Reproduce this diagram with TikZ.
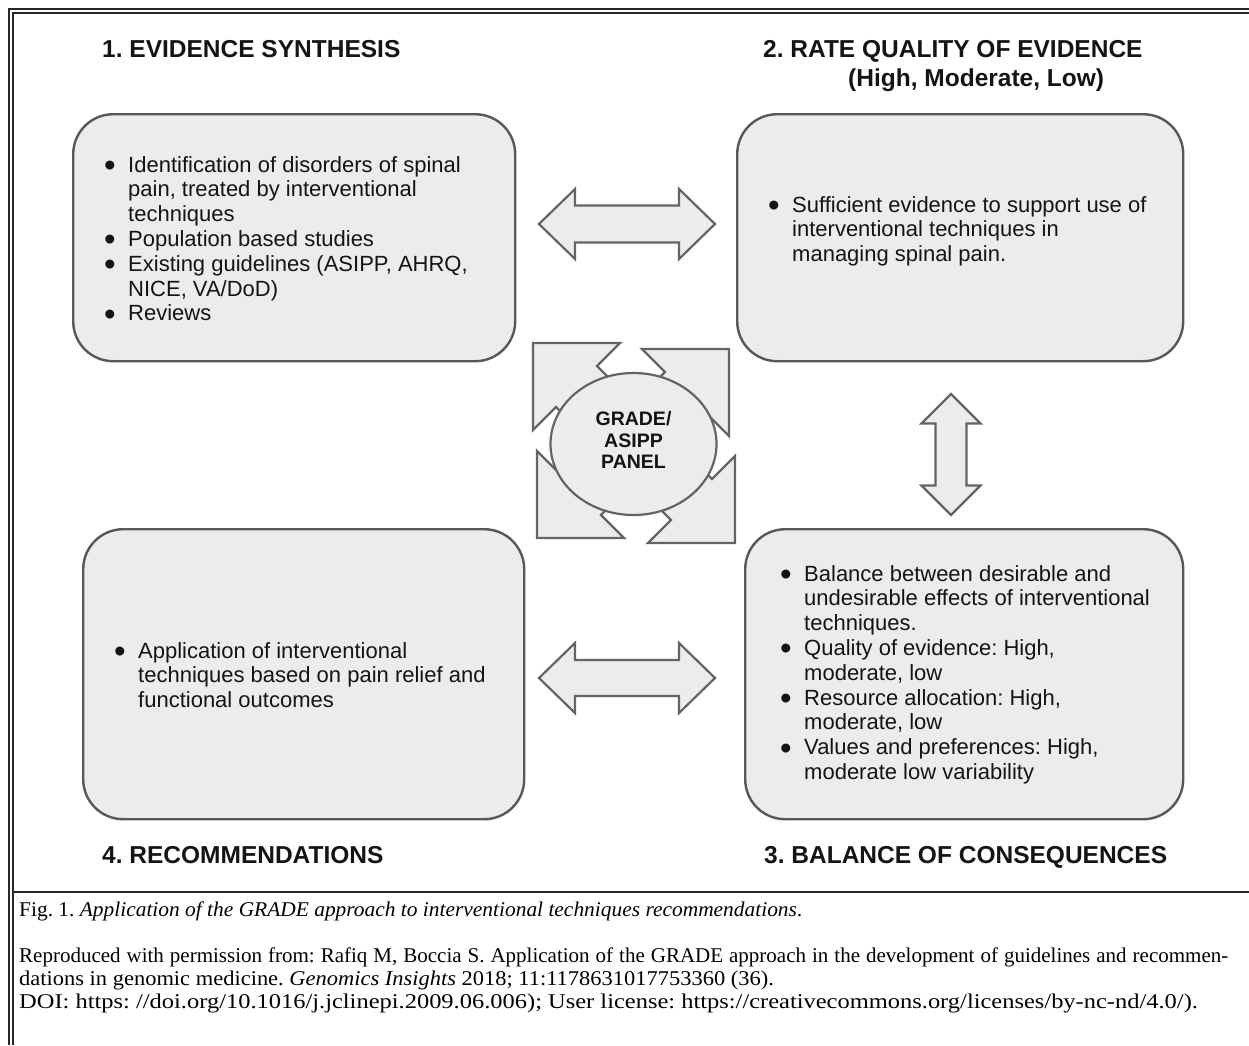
\documentclass[tikz,border=0pt]{standalone}
\usepackage{fontspec}
\setmainfont{Liberation Sans}
\newfontfamily\capfont{Liberation Serif}
\usetikzlibrary{calc,shapes.geometric}

\definecolor{boxfill}{RGB}{236,236,236}
\definecolor{boxline}{RGB}{88,88,88}
\definecolor{arrline}{RGB}{100,100,100}
\definecolor{txt}{RGB}{20,20,20}
\definecolor{framecol}{RGB}{40,40,40}

\newcommand{\bodysize}{\fontsize{22}{24.8}\selectfont}
\newcommand{\titlesize}{\fontsize{24.5}{28}\selectfont\bfseries}
\newcommand{\bul}{\makebox[24pt][l]{\smash{\raisebox{-4.5pt}{\scalebox{1.5}{\textbullet}}}}}
\newcommand{\ind}{\hspace*{24pt}}

\begin{document}
\frenchspacing
\begin{tikzpicture}[x=1pt,y=-1pt,
  panel/.style={rectangle, draw=boxline, line width=2.4pt, fill=boxfill, rounded corners=40pt, anchor=north west, inner sep=0pt},
  blockarrow/.style={draw=arrline, line width=2.2pt, fill=boxfill, line join=miter},
  heading/.style={anchor=base west, inner sep=0pt, font=\titlesize, text=txt},
  body/.style={anchor=base west, inner sep=0pt, font=\bodysize, text=txt},
  captext/.style={anchor=base west, inner sep=0pt, font=\capfont\fontsize{21}{23}\selectfont, text=black},
]
\useasboundingbox (0,0) rectangle (1249,1045);
\fill[white] (0,0) rectangle (1249,1045);

% frame
\draw[framecol, line width=2.5pt] (9,1045) -- (9,9) -- (1249,9);
\draw[framecol, line width=1.2pt] (13,1045) -- (13,13) -- (1249,13);
\draw[framecol, line width=1.5pt] (13,892) -- (1249,892);

% headings
\node[heading] (t1) at (102,57) {1. EVIDENCE SYNTHESIS};
\node[heading] (t2) at (763,57) {2. RATE QUALITY OF EVIDENCE};
\node[heading] (t2b) at (848,86) {(High, Moderate, Low)};
\node[heading] (t4) at (102,863) {4. RECOMMENDATIONS};
\node[heading] (t3) at (764,863) {3. BALANCE OF CONSEQUENCES};

% panels
\node[panel, minimum width=442pt, minimum height=247pt] (box1) at (72,113) {};
\node[panel, minimum width=446pt, minimum height=247pt] (box2) at (736,113) {};
\node[panel, minimum width=441pt, minimum height=290pt] (box4) at (82,528) {};
\node[panel, minimum width=438pt, minimum height=290pt] (box3) at (744,528) {};

% panel texts
\node[body] (b1) at (104,172) {\begin{tabular}[t]{@{}l@{}}
\bul Identification of disorders of spinal\\
\ind pain, treated by interventional\\
\ind techniques\\
\bul Population based studies\\
\bul Existing guidelines (ASIPP, AHRQ,\\
\ind NICE, VA/DoD)\\
\bul Reviews
\end{tabular}};

\node[body] (b2) at (768,212) {\begin{tabular}[t]{@{}l@{}}
\bul Sufficient evidence to support use of\\
\ind interventional techniques in\\
\ind managing spinal pain.
\end{tabular}};

\node[body] (b4) at (114,658) {\begin{tabular}[t]{@{}l@{}}
\bul Application of interventional\\
\ind techniques based on pain relief and\\
\ind functional outcomes
\end{tabular}};

\node[body] (b3) at (780,581) {\begin{tabular}[t]{@{}l@{}}
\bul Balance between desirable and\\
\ind undesirable effects of interventional\\
\ind techniques.\\
\bul Quality of evidence: High,\\
\ind moderate, low\\
\bul Resource allocation: High,\\
\ind moderate, low\\
\bul Values and preferences: High,\\
\ind moderate low variability
\end{tabular}};

% block double arrows between panels
\draw[blockarrow] (539,224) -- (575,189) -- (575,205.5) -- (679,205.5) -- (679,189) -- (715,224)
  -- (679,259) -- (679,242.5) -- (575,242.5) -- (575,259) -- cycle;
\draw[blockarrow] (539,678) -- (575,643) -- (575,660) -- (679,660) -- (679,643) -- (715,678)
  -- (679,713) -- (679,696) -- (575,696) -- (575,713) -- cycle;
\draw[blockarrow] (951,394) -- (980.5,423.5) -- (966.5,423.5) -- (966.5,485.5) -- (980.5,485.5) -- (951,515)
  -- (921.5,485.5) -- (935.5,485.5) -- (935.5,423.5) -- (921.5,423.5) -- cycle;

% four diagonal arrows around the panel ellipse
\foreach \tx/\ty/\sx/\sy in {533/343/1/1, 729/349/-1/1, 537/538/1/-1, 735/543/-1/-1}{
  \draw[blockarrow] (\tx,\ty) -- ({\tx+87*\sx},\ty) -- ({\tx+64*\sx},{\ty+23*\sy})
    -- ({\tx+107.5*\sx},{\ty+66.5*\sy}) -- ({\tx+66.5*\sx},{\ty+107.5*\sy})
    -- ({\tx+23*\sx},{\ty+64*\sy}) -- (\tx,{\ty+87*\sy}) -- cycle;
}

% central ellipse
\node[ellipse, draw=arrline, line width=2.2pt, fill=boxfill, minimum width=166pt, minimum height=142pt, inner sep=0pt] (panel) at (633.5,444) {};
\node[align=center, font=\bfseries\fontsize{19.5}{21.5}\selectfont, text=txt, inner sep=0pt] (paneltext) at ($(panel.center)+(0,-4)$) {GRADE/\\ASIPP\\PANEL};

% caption
\node[captext] (cap1) at (19,916) {\scalebox{1.02}[1]{Fig. 1. \textit{Application of the GRADE approach to interventional techniques recommendations}.}};
\node[captext] (cap2) at (19,962) {\makebox[1209pt][s]{Reproduced with permission from: Rafiq M, Boccia S. Application of the GRADE approach in the development of guidelines and recommen-}};
\node[captext] (cap3) at (19,985) {\scalebox{1.07}[1]{dations in genomic medicine. \textit{Genomics Insights} 2018; 11:1178631017753360 (36).}};
\node[captext] (cap4) at (19,1008) {\scalebox{1.165}[1]{DOI: https: //doi.org/10.1016/j.jclinepi.2009.06.006); User license: https://creativecommons.org/licenses/by-nc-nd/4.0/).}};
\end{tikzpicture}
\end{document}
